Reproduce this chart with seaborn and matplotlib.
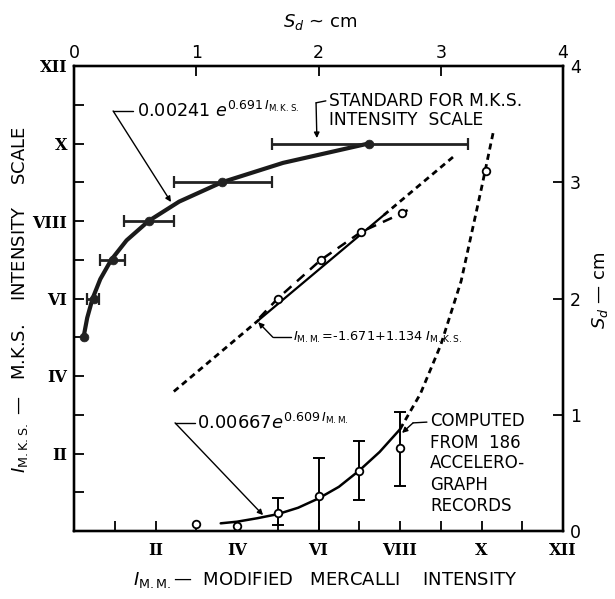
import matplotlib
matplotlib.use("Agg")
import matplotlib.pyplot as plt
import seaborn as sns

# --- data ---
# M.K.S. intensity vs spectral displacement (top axis, cm)
mks_levels = [5, 6, 7, 8, 9, 10]
mks_sd = [0.08, 0.16, 0.32, 0.61, 1.21, 2.41]
mks_sd_lo = [0.08, 0.11, 0.21, 0.41, 0.82, 1.62]
mks_sd_hi = [0.08, 0.205, 0.42, 0.82, 1.62, 3.22]
mks_fit_i = [4.95, 5.5, 6, 6.5, 7, 7.5, 8, 8.5, 9, 9.5, 10]
mks_fit_sd = [0.075, 0.108, 0.152, 0.215, 0.305, 0.43, 0.61, 0.86, 1.21, 1.71, 2.41]

# M.M. vs M.K.S. comparison points and regression line
cmp_mm = [4.55, 5.0, 6.05, 7.05, 8.05, 8.3]
cmp_mks = [5.5, 6.0, 6.99, 7.72, 8.2, 8.35]
reg_mks = [3.6, 5.45, 8.15, 9.65]
reg_mm = [2.45, 4.54, 7.60, 9.30]

# modified Mercalli intensity vs spectral displacement (right axis, cm)
mm_levels = [3.0, 4.0, 5.0, 6.0, 7.0, 8.0, 10.1]
mm_sd = [0.06, 0.045, 0.157, 0.30, 0.52, 0.71, 3.10]
err_mm = [5.0, 6.0, 7.0, 8.0]
err_lo = [0.05, 0.0, 0.267, 0.387]
err_hi = [0.28, 0.625, 0.774, 1.026]
err_mid = [0.157, 0.30, 0.52, 0.71]
mm_fit = [3.6, 4.0, 4.5, 5.0, 5.5, 6.0, 6.5, 7.0, 7.5, 8.0]
mm_fit_sd = [0.066, 0.08, 0.11, 0.145, 0.2, 0.28, 0.38, 0.52, 0.68, 0.875]
mm_ext = [8.0, 8.5, 9.0, 9.5, 10.0, 10.3]
mm_ext_sd = [0.875, 1.18, 1.6, 2.15, 2.95, 3.45]

roman = {2: "II", 4: "IV", 6: "VI", 8: "VIII", 10: "X", 12: "XII"}
sd_ticks = [0, 1, 2, 3, 4]

sns.set_style("ticks")
plt.rcParams["font.family"] = ["DejaVu Sans"]
plt.rcParams["mathtext.fontset"] = "dejavusans"
plt.rcParams["text.color"] = "black"
plt.rcParams["xtick.color"] = "black"
plt.rcParams["ytick.color"] = "black"
plt.rcParams["axes.edgecolor"] = "black"

fig = plt.figure(figsize=(6.15, 5.99), dpi=100)
ax = fig.add_axes([74 / 615, 1 - 531 / 599, 489 / 615, 465 / 599])
ax_top = ax.twiny()
ax_r = ax.twinx()

dots = (0, (2.2, 1.6))

# regression line (dotted ends, solid middle)
sns.lineplot(x=reg_mm[:2], y=reg_mks[:2], ax=ax, color="k", lw=2, linestyle=dots,
             sort=False, estimator=None)
sns.lineplot(x=reg_mm[1:3], y=reg_mks[1:3], ax=ax, color="k", lw=1.6,
             sort=False, estimator=None)
sns.lineplot(x=reg_mm[2:], y=reg_mks[2:], ax=ax, color="k", lw=2, linestyle=dots,
             sort=False, estimator=None)
# comparison points
sns.lineplot(x=cmp_mm, y=cmp_mks, ax=ax, color="k", lw=1.8, linestyle=(0, (4, 3)),
             sort=False, estimator=None)
sns.scatterplot(x=cmp_mm[1:5], y=cmp_mks[1:5], ax=ax, s=30, color="white",
                edgecolor="k", linewidth=1.3, zorder=5)

# M.K.S. standard curve on the top axis
sns.lineplot(x=mks_fit_sd, y=mks_fit_i, ax=ax_top, color="#1a1a1a", lw=3,
             sort=False, estimator=None)
xerr = [[m - lo for m, lo in zip(mks_sd[1:], mks_sd_lo[1:])],
        [hi - m for m, hi in zip(mks_sd[1:], mks_sd_hi[1:])]]
ax_top.errorbar(mks_sd[1:], mks_levels[1:], xerr=xerr, fmt="none", ecolor="#222222",
                elinewidth=2, capsize=4, capthick=1.6)
sns.scatterplot(x=mks_sd, y=mks_levels, ax=ax_top, s=40, color="#222222",
                edgecolor="#222222", zorder=5)

# M.M. curve on the right axis
sns.lineplot(x=mm_fit, y=mm_fit_sd, ax=ax_r, color="k", lw=1.8,
             sort=False, estimator=None)
sns.lineplot(x=mm_ext, y=mm_ext_sd, ax=ax_r, color="k", lw=2, linestyle=dots,
             sort=False, estimator=None)
yerr = [[m - lo for m, lo in zip(err_mid, err_lo)],
        [hi - m for m, hi in zip(err_mid, err_hi)]]
ax_r.errorbar(err_mm, err_mid, yerr=yerr, fmt="none", ecolor="k",
              elinewidth=1.4, capsize=4, capthick=1.4)
sns.scatterplot(x=mm_levels, y=mm_sd, ax=ax_r, s=30, color="white",
                edgecolor="k", linewidth=1.3, zorder=5)

# axes and ticks
ax.set_xlim(0, 12)
ax.set_ylim(0, 12)
ax.set_xticks(range(13))
ax.set_yticks(range(13))
ax.set_xticklabels([roman.get(i, "") for i in range(13)])
ax.set_yticklabels([roman.get(i, "") for i in range(13)])
ax.tick_params(direction="in", length=7, width=1.3, pad=5)
ax.tick_params(axis="x", pad=8)
for lab in ax.get_xticklabels() + ax.get_yticklabels():
    lab.set_fontfamily("DejaVu Serif")
    lab.set_fontweight("bold")
    lab.set_fontsize(11.5)

ax_top.set_xlim(0, 4)
ax_top.set_xticks(sd_ticks)
ax_top.set_xticklabels([str(t) for t in sd_ticks], fontsize=12.5)
ax_top.tick_params(axis="x", direction="in", length=7, width=1.3, pad=3)

ax_r.set_ylim(0, 4)
ax_r.set_yticks(sd_ticks)
ax_r.set_yticklabels([str(t) for t in sd_ticks], fontsize=12.5)
ax_r.tick_params(axis="y", direction="in", length=7, width=1.3, pad=5)

for a in (ax, ax_top, ax_r):
    a.set_xlabel("")
    a.set_ylabel("")
    for sp in a.spines.values():
        sp.set_linewidth(1.6)
        sp.set_color("k")
        sp.set_visible(True)

# axis titles
fig.text(320 / 615, 1 - 22 / 599, r"$S_d$ ~ cm", ha="center", va="center", fontsize=13)
fig.text(133 / 615, 1 - 580 / 599,
         r"$I_{\mathrm{M.M.}}$—  MODIFIED   MERCALLI    INTENSITY",
         ha="left", va="center", fontsize=13)
fig.text(20 / 615, 1 - 300 / 599,
         r"$I_{\mathrm{M.K.S.}}$ —   M.K.S.    INTENSITY    SCALE",
         ha="center", va="center", rotation=90, fontsize=13)
fig.text(600 / 615, 1 - 290 / 599, r"$S_d$ — cm", ha="center", va="center",
         rotation=90, fontsize=13)

# leader lines with small arrowheads
arrow = dict(arrowstyle="-|>", color="k", lw=1, mutation_scale=8, shrinkA=0, shrinkB=0)


def leader(corner_from, corner, tip):
    ax.plot([corner_from[0], corner[0]], [corner_from[1], corner[1]], color="k", lw=1)
    ax.annotate("", xy=tip, xytext=corner, arrowprops=arrow)


ax.text(1.55, 10.84, r"0.00241 $e^{0.691\,I_{\mathrm{M.K.S.}}}$", fontsize=12.7, va="center")
leader((1.45, 10.84), (0.96, 10.84), (2.38, 8.49))

ax.text(6.26, 11.10, "STANDARD FOR M.K.S.", fontsize=12.3, va="center")
ax.text(6.26, 10.61, "INTENSITY  SCALE", fontsize=12.3, va="center")
leader((6.18, 11.10), (5.94, 11.05), (5.96, 10.14))

ax.text(5.37, 5.0, r"$I_{\mathrm{M.M.}}$=-1.671+1.134 $I_{\mathrm{M.K.S.}}$",
        fontsize=9.3, va="center")
leader((5.33, 5.0), (4.88, 5.0), (4.52, 5.39))

ax.text(3.02, 2.79, r"0.00667$e^{0.609\,I_{\mathrm{M.M.}}}$", fontsize=13, va="center")
leader((2.97, 2.79), (2.48, 2.79), (4.64, 0.41))

for txt, yv in zip(["COMPUTED", "FROM  186", "ACCELERO-", "GRAPH", "RECORDS"],
                   [2.84, 2.27, 1.75, 1.19, 0.65]):
    ax.text(8.74, yv, txt, fontsize=12, va="center")
leader((8.66, 2.81), (8.32, 2.79), (8.05, 2.53))

fig.savefig("out.png", dpi=100)
